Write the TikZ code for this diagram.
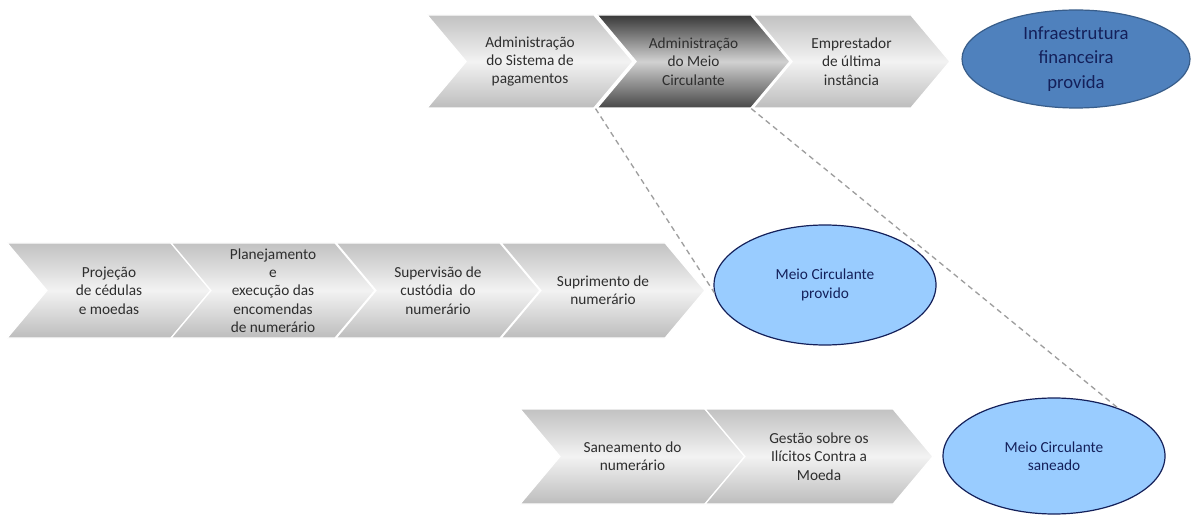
\documentclass[tikz,border=0pt]{standalone}
\usepackage{fontspec}
\setmainfont{Carlito}
\usepackage{tikz}
\usetikzlibrary{shapes.symbols, shapes.geometric}
\definecolor{chevtxt}{HTML}{2E2E2E}
\definecolor{ovalblue}{HTML}{4F81BD}
\definecolor{ovalline}{HTML}{385D8A}
\definecolor{ovallight}{HTML}{99CCFF}
\definecolor{ovaltxt}{HTML}{14205A}
\tikzstyle{chevron} =[signal, signal from=west, signal to=east, signal pointer angle=100,
	draw=white, line width=1pt, top color=black!24, bottom color=black!26, middle color=black!5,
	text=chevtxt, align=center, inner sep=0pt, font=\fontsize{11.5}{13.75}\selectfont]
\tikzstyle{darkchevron} =[chevron, top color=black!78, bottom color=black!72, middle color=black!18]
\tikzstyle{oval} =[ellipse, draw=ovaltxt, line width=0.9pt, fill=ovallight, text=ovaltxt,
	align=center, inner sep=0pt, font=\fontsize{11.5}{13.75}\selectfont]
\tikzstyle{link} =[draw=black!38, dash pattern=on 4pt off 3pt, line width=1pt]

\begin{document}
\begin{tikzpicture}[x=0.75pt, y=-0.75pt]
		\useasboundingbox (0,0) rectangle (1194,516);
		% top row
		\node (sispag)[chevron, minimum width=154.5pt, minimum height=69.75pt] at (530,61.5) {Administração\\do Sistema de\\pagamentos};
		\node (adm)[darkchevron, minimum width=144.75pt, minimum height=69.75pt] at (693.5,61.5) {Administração\\do Meio\\Circulante};
		\node (empr)[chevron, minimum width=147.75pt, minimum height=69.75pt] at (851.5,61.5) {Emprestador\\de última\\instância};
		\node (infra)[oval, fill=ovalblue, draw=ovalline, minimum width=171pt, minimum height=73.5pt,
		font=\fontsize{14}{18.5}\selectfont] at (1076,59) {Infraestrutura\\financeira\\provida};
		% middle row
		\node (proj)[chevron, minimum width=153pt, minimum height=71.25pt] at (109,290.5) {Projeção\\de cédulas\\e moedas};
		\node (plan)[chevron, minimum width=153pt, minimum height=71.25pt] at (273,290.5) {Planejamento\\e\\execução das\\encomendas\\de numerário};
		\node (superv)[chevron, minimum width=153pt, minimum height=71.25pt] at (438,290.5) {Supervisão de\\custódia~ do\\numerário};
		\node (supr)[chevron, minimum width=153pt, minimum height=71.25pt] at (603,290.5) {Suprimento de\\numerário};
		\node (mcprov)[oval, minimum width=166.5pt, minimum height=90pt] at (825,285) {Meio Circulante\\provido};
		% bottom row
		\node (sanea)[chevron, minimum width=168.75pt, minimum height=71.25pt] at (632.5,456.5) {Saneamento do\\numerário};
		\node (ilic)[chevron, minimum width=171pt, minimum height=71.25pt] at (819,456.5) {Gestão sobre os\\Ilícitos Contra a\\Moeda};
		\node (mcsan)[oval, minimum width=166.5pt, minimum height=87pt] at (1054,456) {Meio Circulante\\saneado};
		% ligacoes
		\draw[link] (adm.south west) -- (mcprov.184);
		\draw[link] (adm.south east) -- (mcsan.37);
\end{tikzpicture}
\end{document}
